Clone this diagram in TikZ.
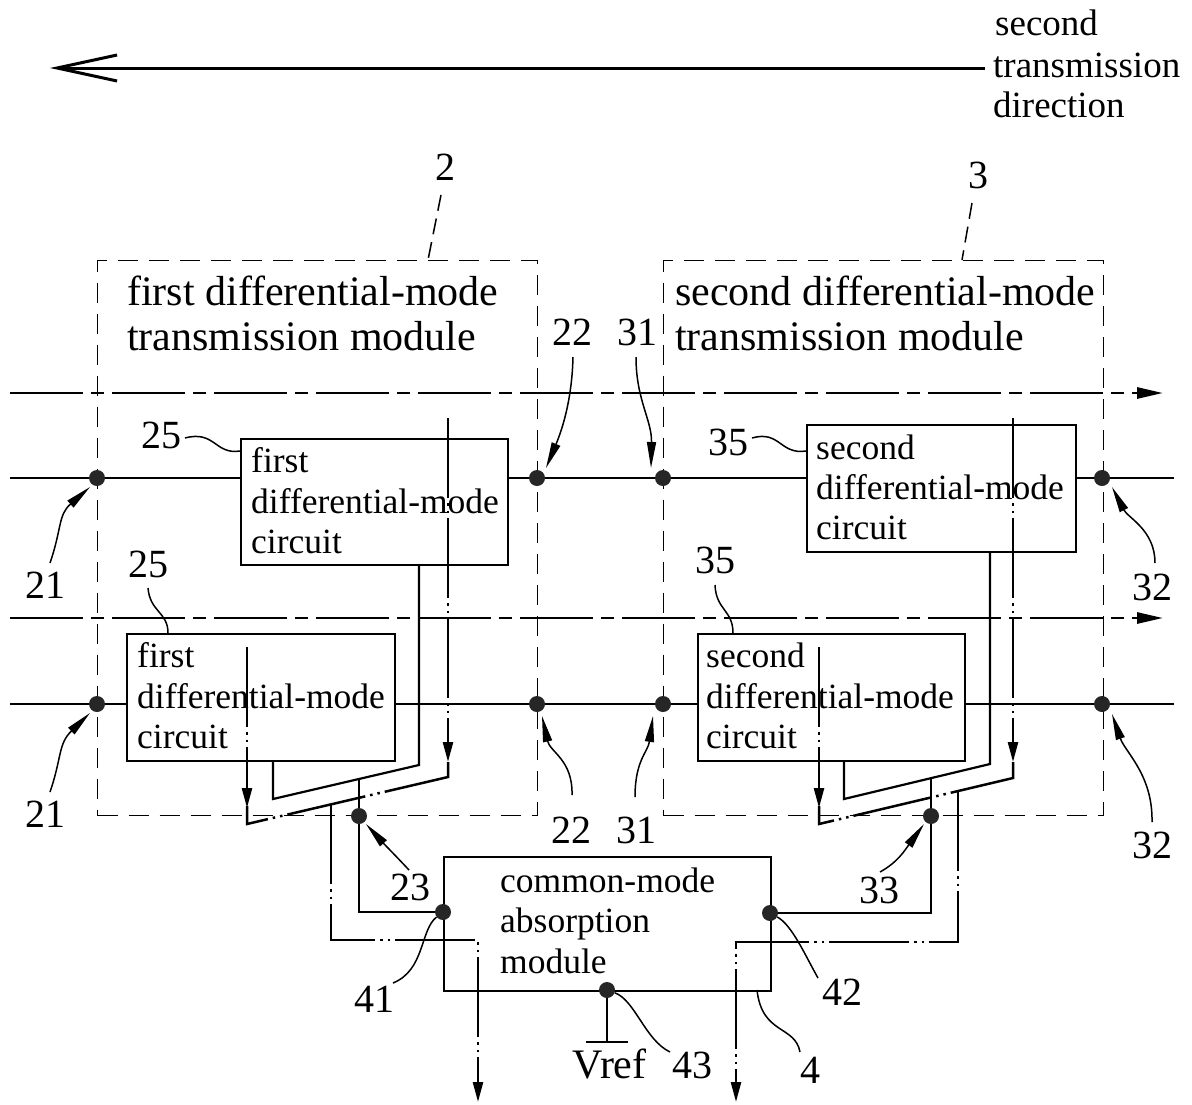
\documentclass[tikz,border=0pt]{standalone}
\usepackage{fontspec}
\setmainfont{Liberation Serif}
\usetikzlibrary{arrows.meta}
\begin{document}
\begin{tikzpicture}[x=1pt,y=-1pt,
  wire/.style={line width=2.2pt},
  cbox/.style={draw,line width=2pt,inner sep=0pt,anchor=north west},
  modbox/.style={draw,line width=1.4pt,dash pattern=on 20pt off 11pt,inner sep=0pt,anchor=north west},
  sig/.style={line width=2.5pt,dash pattern=on 80pt off 5pt on 2.5pt off 5pt on 2.5pt off 5pt},
  sigtip/.style={-{Triangle[length=20pt,width=10pt]}},
  cline/.style={line width=2.8pt,dash pattern=on 73pt off 8pt on 13pt off 8pt},
  junc/.style={circle,fill=black!85,inner sep=0pt,minimum size=16pt},
  ldr/.style={line width=1.5pt},
  ldrtip/.style={-{Triangle[length=26pt,width=9pt]}},
  refdash/.style={line width=1.5pt,dash pattern=on 16pt off 8pt},
  num/.style={font=\fontsize{40}{40}\selectfont,inner sep=0pt,anchor=base},
  ttl/.style={font=\fontsize{42}{45}\selectfont,inner sep=0pt,anchor=base west},
  txt/.style={font=\fontsize{35.5}{40}\selectfont,inner sep=0pt,anchor=base west},
  dirtxt/.style={font=\fontsize{37}{40}\selectfont,inner sep=0pt,anchor=base west},
]
\useasboundingbox (0,0) rectangle (1192,1104);

% top direction arrow
\node[dirtxt] (dir1) at (995,35) {second};
\node[dirtxt] (dir2) at (993,77) {transmission};
\node[dirtxt] (dir3) at (993,117) {direction};
\coordinate (arrtip) at (50,68);
\coordinate (arrend) at (985,68);
\draw[line width=3pt,{Straight Barb[length=60pt,width=26pt]}-] (arrtip) -- (arrend);

% module boxes
\node[modbox,minimum width=440pt,minimum height=555pt] (m2) at (97,260) {};
\node[modbox,minimum width=440pt,minimum height=555pt] (m3) at (663,260) {};
\node[ttl] (t2a) at (127,305) {first differential-mode};
\node[ttl] (t2b) at (127,350) {transmission module};
\node[ttl] (t3a) at (675,305) {second differential-mode};
\node[ttl] (t3b) at (675,350) {transmission module};

% center lines
\draw[cline,-{Triangle[length=26pt,width=11pt]}] (10,393) -- (1163,393);
\draw[cline,-{Triangle[length=26pt,width=11pt]}] (10,618) -- (1163,618);

% circuit boxes
\node[cbox,minimum width=267pt,minimum height=126pt] (u25) at (240,438) {};
\node[cbox,minimum width=268pt,minimum height=127pt] (l25) at (126,633) {};
\node[cbox,minimum width=269pt,minimum height=127pt] (u35) at (806,424) {};
\node[cbox,minimum width=267pt,minimum height=127pt] (l35) at (697,633) {};
\node[cbox,minimum width=327pt,minimum height=134pt] (b4) at (443,856) {};

\node[txt] (u25a) at (251,472) {first};
\node[txt] (u25b) at (251,513) {differential-mode};
\node[txt] (u25c) at (251,553) {circuit};
\node[txt] (l25a) at (137,667) {first};
\node[txt] (l25b) at (137,708) {differential-mode};
\node[txt] (l25c) at (137,748) {circuit};
\node[txt] (u35a) at (816,459) {second};
\node[txt] (u35b) at (816,499) {differential-mode};
\node[txt] (u35c) at (816,539) {circuit};
\node[txt] (l35a) at (706,667) {second};
\node[txt] (l35b) at (706,708) {differential-mode};
\node[txt] (l35c) at (706,748) {circuit};
\node[txt] (b4a) at (500,892) {common-mode};
\node[txt] (b4b) at (500,932) {absorption};
\node[txt] (b4c) at (500,973) {module};

% junction dots
\node[junc] (d21a) at (97,478) {};
\node[junc] (d22a) at (537,478) {};
\node[junc] (d31a) at (663,478) {};
\node[junc] (d32a) at (1102,478) {};
\node[junc] (d21b) at (97,704) {};
\node[junc] (d22b) at (537,704) {};
\node[junc] (d31b) at (663,704) {};
\node[junc] (d32b) at (1102,704) {};
\node[junc] (d23) at (359,816) {};
\node[junc] (d33) at (931,816) {};
\node[junc] (d41) at (443,912) {};
\node[junc] (d42) at (770,913) {};
\node[junc] (d43) at (607,990) {};

% transmission lines
\draw[wire] (10,478) -- (d21a) -- (u25.west |- d21a);
\draw[wire] (u25.east |- d22a) -- (d22a) -- (d31a) -- (u35.west |- d31a);
\draw[wire] (u35.east |- d32a) -- (d32a) -- (1174,478);
\draw[wire] (10,704) -- (d21b) -- (l25.west |- d21b);
\draw[wire] (l25.east |- d22b) -- (d22b) -- (d31b) -- (l35.west |- d31b);
\draw[wire] (l35.east |- d32b) -- (d32b) -- (1174,704);

% module 2 routing
\draw[wire] (419,564) -- (419,765) -- (273,799) -- (273,760);
\draw[wire] (359,779) -- (d23) -- (359,912) -- (d41);
\draw[sig,sigtip] (448,418) -- (448,762);
\draw[sig] (448,762) -- (448,777) -- (247,824) -- (247,806);
\draw[sig,sigtip] (247,647) -- (247,808);
\draw[sig,sigtip] (331,804) -- (331,940) -- (478,940) -- (478,1102);

% module 3 routing
\draw[wire] (990,551) -- (990,764) -- (844,799) -- (844,760);
\draw[wire] (931,778) -- (d33) -- (931,913) -- (d42);
\draw[sig,sigtip] (1013,418) -- (1013,762);
\draw[sig] (1013,762) -- (1013,778) -- (819,824) -- (819,806);
\draw[sig,sigtip] (819,647) -- (819,808);
\draw[sig,sigtip] (958,791) -- (958,942) -- (736,942) -- (736,1102);

% Vref
\coordinate (gnd) at (607,1042);
\draw[wire] (d43) -- (gnd);
\draw[wire] (586,1042) -- (628,1042);
\node[font=\fontsize{42}{42}\selectfont,inner sep=0pt,anchor=base west] (vref) at (572,1078) {Vref};

% reference numerals
\node[num] (n2) at (445,180) {2};
\draw[refdash] (441,195) -- (428,260);
\node[num] (n3) at (978,188) {3};
\draw[refdash] (972,203) -- (962,260);

\node[num] (n21a) at (45,598) {21};
\draw[ldr,ldrtip] (50,563) .. controls (62,528) and (58,515) .. (90,487);
\node[num] (n21b) at (45,827) {21};
\draw[ldr,ldrtip] (50,792) .. controls (62,757) and (58,744) .. (90,713);

\node[num] (n22a) at (572,345) {22};
\draw[ldr,ldrtip] (573,357) .. controls (572,400) and (562,430) .. (546,468);
\node[num] (n31a) at (637,345) {31};
\draw[ldr,ldrtip] (636,357) .. controls (636,400) and (652,420) .. (651,468);
\node[num] (n22b) at (571,843) {22};
\draw[ldr,ldrtip] (572,795) .. controls (573,760) and (550,752) .. (542,716);
\node[num] (n31b) at (636,843) {31};
\draw[ldr,ldrtip] (635,797) .. controls (635,760) and (648,752) .. (653,716);

\node[num] (n32a) at (1152,600) {32};
\draw[ldr,ldrtip] (1155,563) .. controls (1155,530) and (1128,518) .. (1112,487);
\node[num] (n32b) at (1152,858) {32};
\draw[ldr,ldrtip] (1152,822) .. controls (1153,775) and (1125,752) .. (1112,714);

\node[num] (n23) at (410,900) {23};
\draw[ldr,ldrtip] (409,870) .. controls (395,855) and (385,845) .. (366,824);
\node[num] (n33) at (879,903) {33};
\draw[ldr,ldrtip] (880,872) .. controls (898,862) and (905,850) .. (924,824);

\node[num] (n41) at (374,1012) {41};
\draw[ldr] (393,983) .. controls (425,970) and (420,930) .. (d41);
\node[num] (n42) at (842,1005) {42};
\draw[ldr] (d42) .. controls (792,925) and (805,955) .. (818,978);
\node[num] (n43) at (692,1078) {43};
\draw[ldr] (d43) .. controls (635,1000) and (645,1040) .. (670,1052);
\node[num] (n4) at (810,1083) {4};
\draw[ldr] (757,990) .. controls (762,1035) and (795,1025) .. (800,1052);

\node[num] (n25a) at (161,448) {25};
\draw[ldr] (185,438) .. controls (215,430) and (215,455) .. (240,451);
\node[num] (n25b) at (148,577) {25};
\draw[ldr] (148,588) .. controls (150,612) and (168,612) .. (168,633);
\node[num] (n35a) at (728,455) {35};
\draw[ldr] (752,438) .. controls (780,430) and (780,455) .. (806,451);
\node[num] (n35b) at (715,573) {35};
\draw[ldr] (715,585) .. controls (716,610) and (733,610) .. (733,633);
\end{tikzpicture}
\end{document}
